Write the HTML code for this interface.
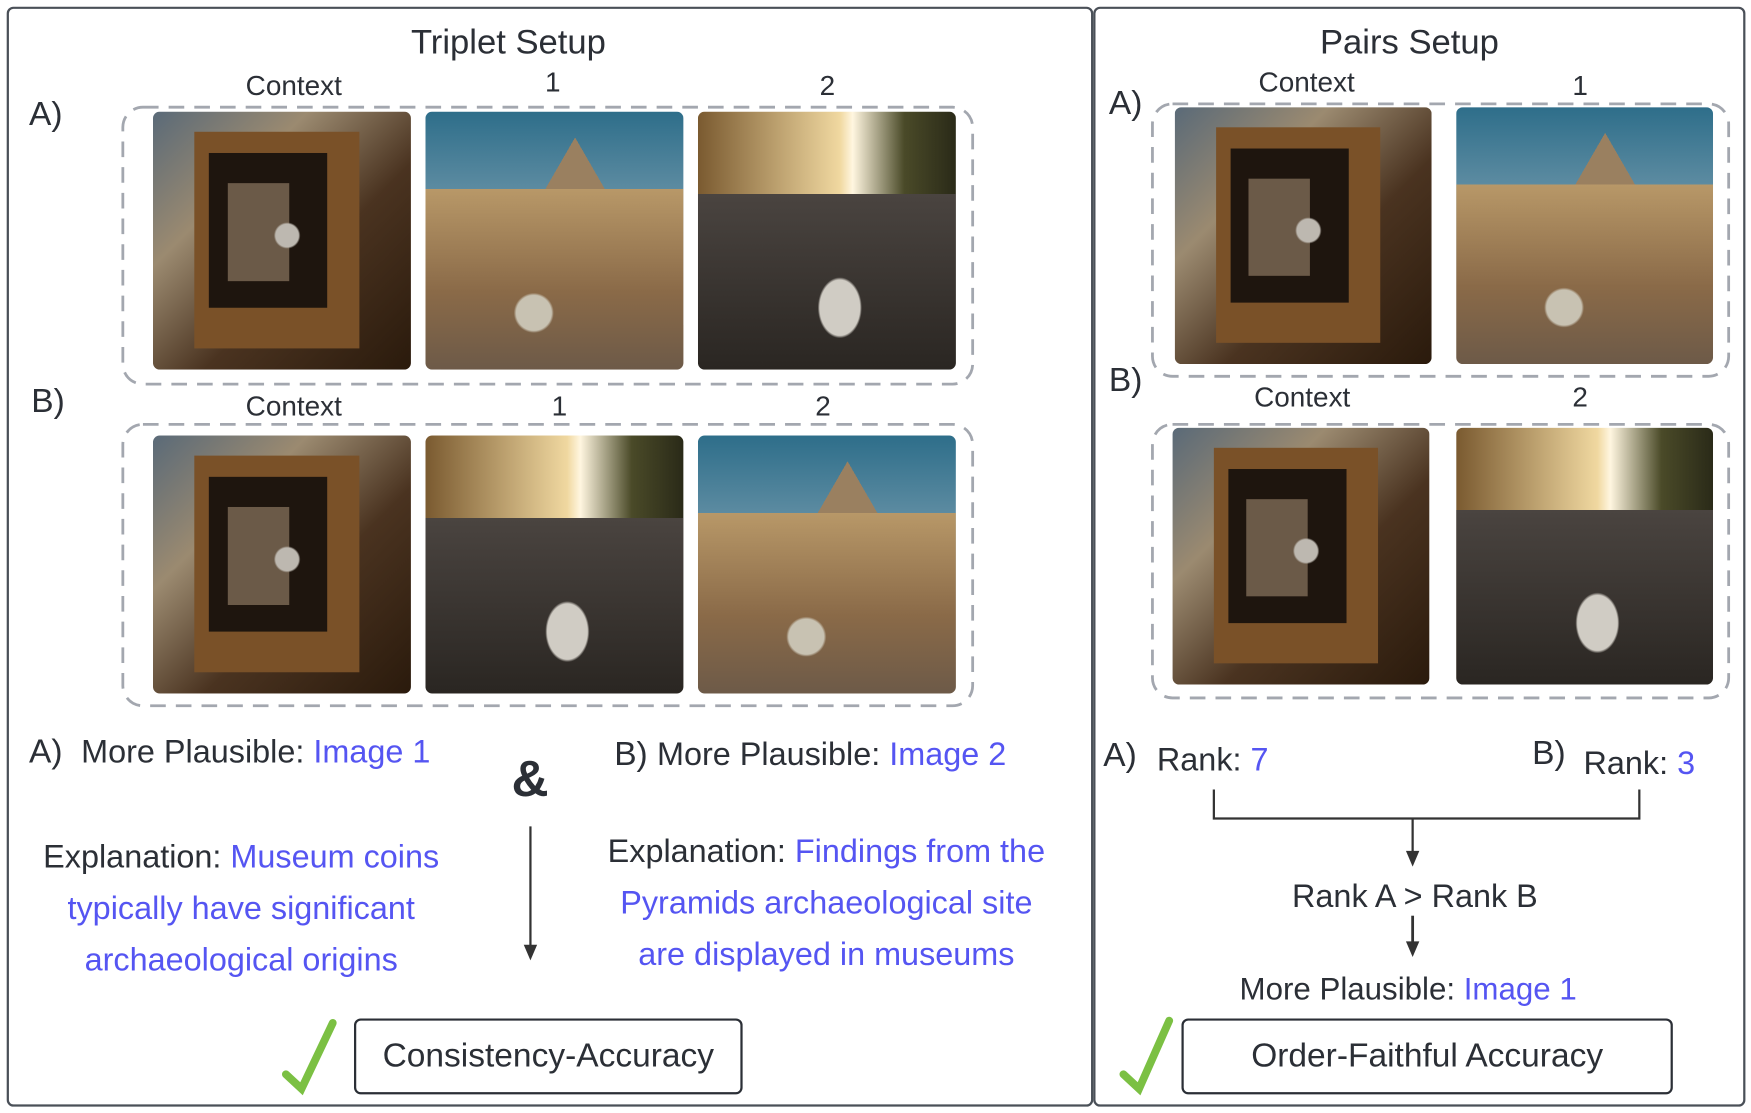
<!DOCTYPE html>
<html><head><meta charset="utf-8"><style>
html,body{margin:0;padding:0;background:#fff;}
#wrap{width:1751px;height:1113px;overflow:hidden;position:relative;}
#c{position:absolute;left:0;top:0;width:1568px;height:997px;transform:scale(1.11671);transform-origin:0 0;font-family:"Liberation Sans",sans-serif;color:#2b2f36;}
.a{position:absolute;white-space:nowrap;}
.panel{position:absolute;border:2.5px solid #4a5058;border-radius:6px;box-sizing:border-box;}
.img{position:absolute;width:231px;height:231px;border-radius:6px;overflow:hidden;}
.frame{background:radial-gradient(circle at 52% 48%,#bdb8b0 0 6%,transparent 7%),linear-gradient(#6b5a48,#6b5a48) 38% 45%/24% 38% no-repeat,linear-gradient(#1e150e,#1e150e) 40% 40%/46% 60% no-repeat,linear-gradient(#7a5128,#7a5128) 45% 50%/64% 84% no-repeat,linear-gradient(135deg,#5a6a78 0%,#9b8a70 30%,#4a3320 60%,#2a1a0c 100%);}
.pyr{background:radial-gradient(circle at 42% 78%,#c8c2b2 0 7%,transparent 8%),linear-gradient(to bottom,transparent 0 30%,#b89868 30%,#8a6a48 70%,#6d5a48 100%),conic-gradient(from 150deg at 58% 10%,#9a8060 0deg,#9a8060 60deg,transparent 60deg),linear-gradient(#2e6e8a,#8aa8b8 60%,#c9b898);}
.str{background:radial-gradient(ellipse at 55% 76%,#d0ccc4 0 10%,transparent 11%),linear-gradient(to bottom,transparent 0 32%,#4a4440 32%,#2a2622 100%),linear-gradient(90deg,#7a5a30,#f0d8a0 55%,#fff6e0 60%,#4a4a28 80%,#2a2a18);}
.t{font-size:25px;}
.blue{color:#5555f2;}
.box{position:absolute;border:2.5px solid #2b2f36;border-radius:6px;box-sizing:border-box;font-size:30px;display:flex;align-items:center;justify-content:center;}
</style></head><body><div id="wrap"><div id="c">
<div class="panel" style="left:6px;top:6px;width:973px;height:985px"></div>
<div class="panel" style="left:979px;top:6px;width:584px;height:985px"></div>

<div class="a" style="left:368px;top:20px;font-size:31px">Triplet Setup</div>
<div class="a" style="left:1182px;top:20px;font-size:31px">Pairs Setup</div>

<svg class="a" style="left:0;top:0" width="1568" height="997">
<g fill="none" stroke="#a3a7af" stroke-width="2.5" stroke-dasharray="14 9">
<rect x="110" y="96" width="761" height="248" rx="18"/>
<rect x="110" y="380" width="761" height="252" rx="18"/>
<rect x="1032" y="93" width="516" height="244" rx="18"/>
<rect x="1032" y="380" width="516" height="245" rx="18"/>
</g>
<line x1="475" y1="740" x2="475" y2="850" stroke="#333" stroke-width="2"/>
<polygon points="469,846 481,846 475,860" fill="#333"/>
<path d="M1087 707 V733 H1468 V707 M1265 733 V765" stroke="#333" stroke-width="2" fill="none"/>
<polygon points="1259,762 1271,762 1265,776" fill="#333"/>
<line x1="1265" y1="820" x2="1265" y2="846" stroke="#333" stroke-width="2.5"/>
<polygon points="1259,843 1271,843 1265,857" fill="#333"/>
<path d="M256 962 L270 975 L298 916" stroke="#7bc043" stroke-width="7" fill="none" stroke-linecap="round"/>
<path d="M1006 962 L1020 975 L1047 914" stroke="#7bc043" stroke-width="7" fill="none" stroke-linecap="round"/>
</svg>

<!-- Triplet A -->
<div class="a" style="left:26px;top:86px;font-size:30px">A)</div>
<div class="a t" style="left:220px;top:63px">Context</div>
<div class="a t" style="left:488px;top:60px">1</div>
<div class="a t" style="left:734px;top:63px">2</div>
<div class="img frame" style="left:137px;top:100px"></div>
<div class="img pyr" style="left:381px;top:100px"></div>
<div class="img str" style="left:625px;top:100px"></div>

<!-- Triplet B -->
<div class="a" style="left:28px;top:343px;font-size:30px">B)</div>
<div class="a t" style="left:220px;top:350px">Context</div>
<div class="a t" style="left:494px;top:350px">1</div>
<div class="a t" style="left:730px;top:350px">2</div>
<div class="img frame" style="left:137px;top:390px"></div>
<div class="img str" style="left:381px;top:390px"></div>
<div class="img pyr" style="left:625px;top:390px"></div>

<div class="a" style="left:26px;top:657px;font-size:30px">A)&nbsp; <span style="font-size:29px">More Plausible: <span class="blue">Image 1</span></span></div>
<div class="a" style="left:550px;top:659px;font-size:30px">B) <span style="font-size:29px">More Plausible: <span class="blue">Image 2</span></span></div>
<div class="a" style="left:458px;top:670px;font-size:46px;font-weight:bold">&amp;</div>
<div class="a" style="left:16px;top:745px;width:400px;text-align:center;font-size:29px;line-height:46px">Explanation: <span class="blue">Museum coins<br>typically have significant<br>archaeological origins</span></div>
<div class="a" style="left:520px;top:740px;width:440px;text-align:center;font-size:29px;line-height:46px">Explanation: <span class="blue">Findings from the<br>Pyramids archaeological site<br>are displayed in museums</span></div>
<div class="box" style="left:317px;top:912px;width:348px;height:68px">Consistency-Accuracy</div>

<!-- Pairs -->
<div class="a" style="left:993px;top:76px;font-size:30px">A)</div>
<div class="a t" style="left:1127px;top:60px">Context</div>
<div class="a t" style="left:1408px;top:63px">1</div>
<div class="img frame" style="left:1052px;top:96px;width:230px;height:230px"></div>
<div class="img pyr" style="left:1304px;top:96px;width:230px;height:230px"></div>

<div class="a" style="left:993px;top:324px;font-size:30px">B)</div>
<div class="a t" style="left:1123px;top:342px">Context</div>
<div class="a t" style="left:1408px;top:342px">2</div>
<div class="img frame" style="left:1050px;top:383px;width:230px;height:230px"></div>
<div class="img str" style="left:1304px;top:383px;width:230px;height:230px"></div>

<div class="a" style="left:988px;top:660px;font-size:30px">A)</div>
<div class="a" style="left:1036px;top:665px;font-size:29px">Rank: <span class="blue">7</span></div>
<div class="a" style="left:1372px;top:658px;font-size:30px">B)</div>
<div class="a" style="left:1418px;top:668px;font-size:29px">Rank: <span class="blue">3</span></div>
<div class="a" style="left:1157px;top:787px;font-size:29px">Rank A &gt; Rank B</div>
<div class="a" style="left:1110px;top:870px;font-size:28px">More Plausible: <span class="blue">Image 1</span></div>
<div class="box" style="left:1058px;top:912px;width:440px;height:68px">Order-Faithful Accuracy</div>
</div></div></body></html>
